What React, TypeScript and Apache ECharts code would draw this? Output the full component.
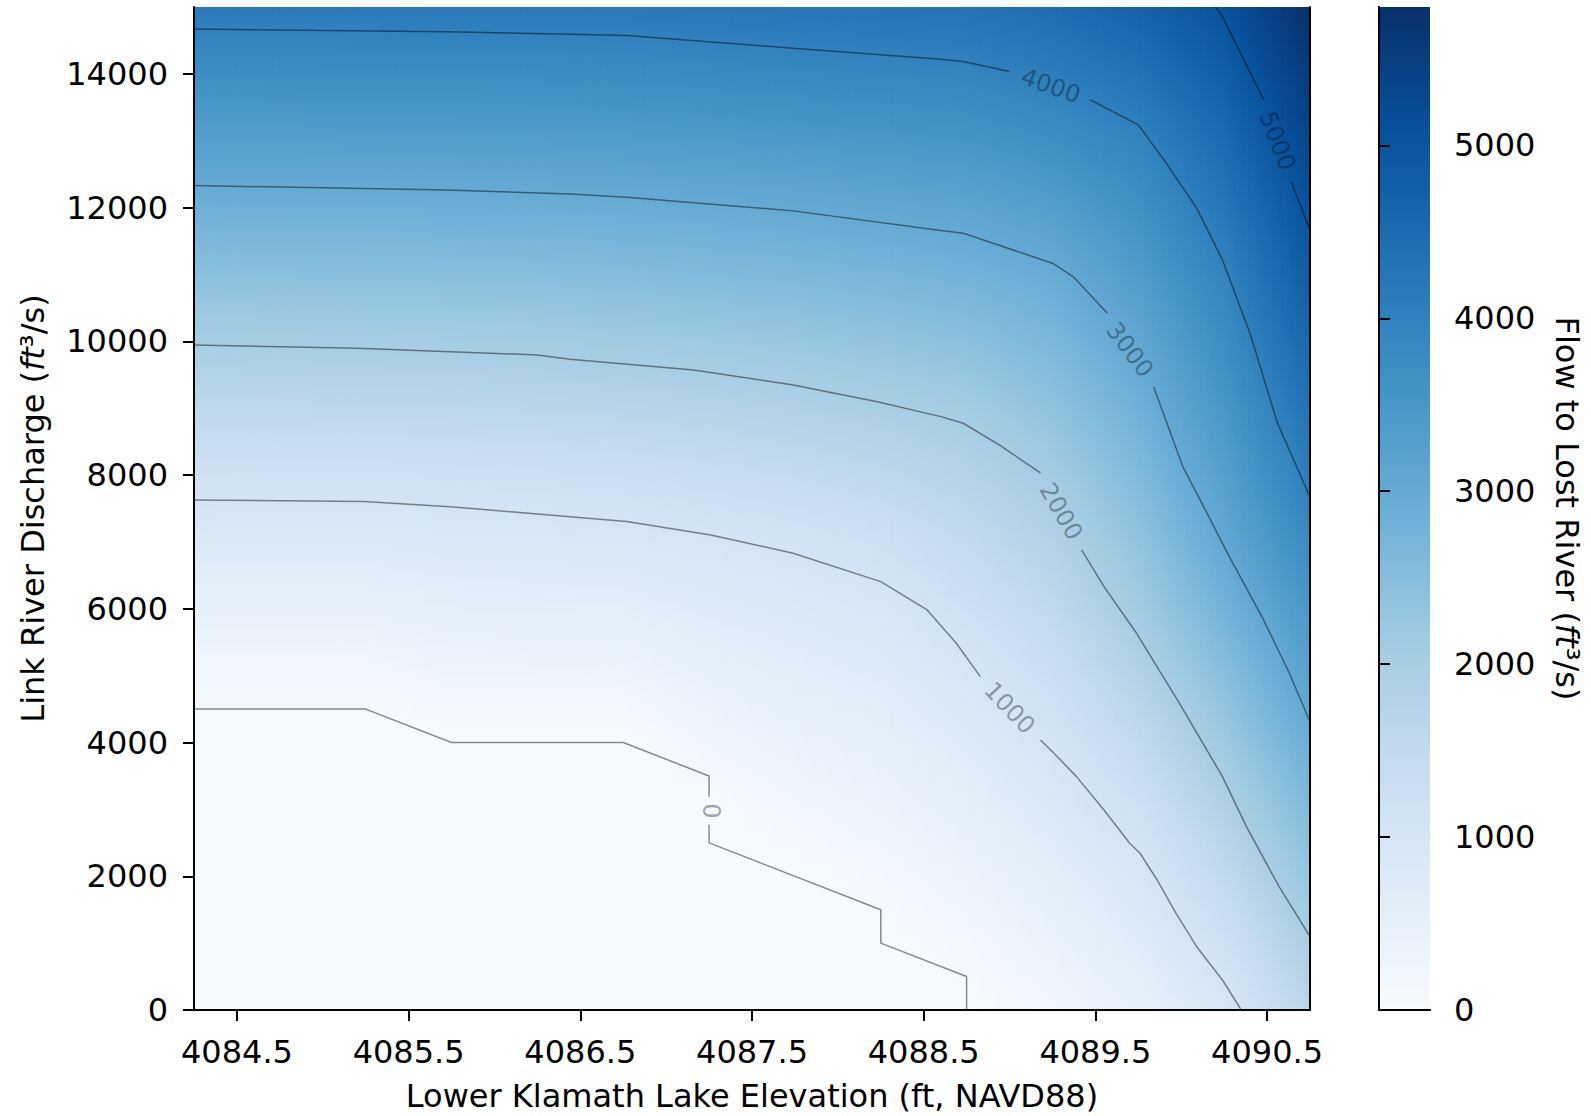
import React, { useEffect, useRef } from "react";
import * as echarts from "echarts";

// ---------------- DATA ----------------
// Grid of Lower Klamath Lake elevations (ft) and Link River discharges (ft3/s)
const elevations = [4084.25, 4084.75, 4085.25, 4085.75, 4086.25, 4086.75, 4087.25, 4087.75, 4088.25, 4088.75, 4089.25, 4089.75, 4090.25, 4090.75];
const discharges = [0, 1000, 2000, 3000, 4000, 5000, 6000, 7000, 8000, 9000, 10000, 11000, 12000, 13000, 14000, 15000];

// Flow to Lost River (ft3/s) for each elevation column, rows follow `discharges`
const flow4084_25 = [0, 0, 0, 0, 0, 160, 480, 800, 1160, 1590, 2020, 2440, 2860, 3290, 3710, 4140];
const flow4084_75 = [0, 0, 0, 0, 0, 160, 480, 805, 1165, 1600, 2035, 2450, 2870, 3295, 3720, 4150];
const flow4085_25 = [0, 0, 0, 0, 0, 160, 485, 805, 1175, 1610, 2045, 2460, 2880, 3305, 3730, 4160];
const flow4085_75 = [0, 0, 0, 0, 0, 285, 565, 850, 1205, 1635, 2060, 2475, 2890, 3315, 3740, 4165];
const flow4086_25 = [0, 0, 0, 0, 0, 290, 585, 875, 1240, 1665, 2085, 2495, 2905, 3325, 3745, 4170];
const flow4086_75 = [0, 0, 0, 0, 0, 300, 605, 905, 1290, 1715, 2135, 2535, 2935, 3350, 3760, 4175];
const flow4087_25 = [0, 0, 0, 0, 245, 485, 730, 975, 1370, 1780, 2185, 2580, 2975, 3390, 3800, 4215];
const flow4087_75 = [0, 0, 0, 205, 415, 620, 830, 1070, 1465, 1865, 2250, 2635, 3020, 3430, 3845, 4255];
const flow4088_25 = [0, 0, 145, 340, 535, 725, 920, 1220, 1595, 1965, 2335, 2705, 3080, 3480, 3885, 4285];
const flow4088_75 = [0, 150, 350, 550, 745, 945, 1210, 1495, 1785, 2085, 2435, 2785, 3150, 3540, 3930, 4320];
const flow4089_25 = [200, 405, 615, 820, 1035, 1295, 1555, 1820, 2085, 2375, 2665, 2950, 3315, 3695, 4075, 4450];
const flow4089_75 = [480, 700, 920, 1195, 1505, 1810, 2095, 2340, 2585, 2830, 3085, 3370, 3650, 3935, 4320, 4700];
const flow4090_25 = [880, 1190, 1520, 1845, 2165, 2470, 2775, 3060, 3285, 3510, 3735, 3955, 4225, 4500, 4780, 5055];
const flow4090_75 = [1660, 1970, 2280, 2590, 2905, 3205, 3500, 3800, 4080, 4330, 4585, 4835, 5080, 5320, 5560, 5800];

const flowGrid = [
  flow4084_25, flow4084_75, flow4085_25, flow4085_75, flow4086_25, flow4086_75, flow4087_25,
  flow4087_75, flow4088_25, flow4088_75, flow4089_25, flow4089_75, flow4090_25, flow4090_75,
];

// Contour lines [elevation, discharge] (split where the inline labels sit)
const contour0a = [[4084.25, 4500], [4085.25, 4500], [4085.75, 4000], [4086.75, 4000], [4087.25, 3500], [4087.25, 3190]];
const contour0b = [[4087.25, 2770], [4087.25, 2500], [4088.25, 1500], [4088.25, 1000], [4088.75, 500], [4088.75, 0]];
const contour1000a = [[4084.25, 7628], [4085.24, 7603], [4085.74, 7528], [4086.44, 7378], [4086.77, 7304], [4087.26, 7105], [4087.74, 6831], [4088.25, 6406], [4088.52, 5983], [4088.69, 5485], [4088.83, 4985]];
const contour1000b = [[4089.18, 4038], [4089.25, 3863], [4089.39, 3490], [4089.55, 2991], [4089.70, 2493], [4089.76, 2344], [4089.86, 1944], [4089.97, 1446], [4090.09, 947], [4090.24, 449], [4090.35, 0]];
const contour2000a = [[4084.25, 9946], [4085.20, 9897], [4086.25, 9797], [4086.44, 9733], [4087.16, 9572], [4087.74, 9348], [4088.23, 9098], [4088.60, 8874], [4088.73, 8775], [4088.94, 8451], [4089.18, 8032]];
const contour2000b = [[4089.42, 6880], [4089.55, 6331], [4089.74, 5634], [4089.99, 4587], [4090.24, 3490], [4090.38, 2742], [4090.57, 1844], [4090.75, 1096]];
const contour3000a = [[4084.25, 12329], [4085.72, 12265], [4086.44, 12205], [4086.77, 12156], [4087.74, 11951], [4088.60, 11656], [4088.73, 11617], [4089.25, 11168], [4089.37, 10968], [4089.57, 10421]];
const contour3000b = [[4089.84, 9318], [4090.01, 8122], [4090.11, 7628], [4090.28, 6780], [4090.48, 5833], [4090.63, 5036], [4090.75, 4312]];
const contour4000a = [[4084.25, 14670], [4085.72, 14630], [4086.44, 14594], [4086.77, 14573], [4087.74, 14384], [4088.60, 14220], [4088.73, 14184], [4089.00, 14034]];
const contour4000b = [[4089.47, 13611], [4089.75, 13237], [4089.90, 12713], [4090.09, 11991], [4090.24, 11218], [4090.40, 10126], [4090.56, 8780], [4090.75, 7673]];
const contour5000a = [[4090.20, 15000], [4090.24, 14857], [4090.48, 13611]];
const contour5000b = [[4090.64, 12389], [4090.75, 11666]];

// Inline contour labels: [elevation, discharge, level]
const contourLabels = [
  [4087.27, 2980, 0],
  [4089.0, 4517, 1000],
  [4089.30, 7456, 2000],
  [4089.70, 9872, 3000],
  [4089.24, 13820, 4000],
  [4090.56, 12998, 5000],
];
const contourLabelAngles = [90, -46.5, -60, -53, -19.5, -69];

// Tick values
const xTicks = [4084.5, 4085.5, 4086.5, 4087.5, 4088.5, 4089.5, 4090.5];
const yTicks = [0, 2000, 4000, 6000, 8000, 10000, 12000, 14000];
const cbTicks = [0, 1000, 2000, 3000, 4000, 5000];

// ---------------- COLOR MAP ----------------
const BLUES = ["#f7fbff", "#deebf7", "#c6dbef", "#9ecae1", "#6baed6", "#4292c6", "#2171b5", "#08519c", "#08306b"];
const VMAX = 5800;
const hexToRgb = (h: string) => [parseInt(h.slice(1, 3), 16), parseInt(h.slice(3, 5), 16), parseInt(h.slice(5, 7), 16)];
const BLUES_RGB = BLUES.map(hexToRgb);
function bluesColor(v: number) {
  const t = Math.min(1, Math.max(0, v / VMAX));
  const p = t * 8;
  const i = Math.min(7, Math.floor(p));
  const f = p - i;
  const a = BLUES_RGB[i];
  const b = BLUES_RGB[i + 1];
  return `rgb(${Math.round(a[0] + (b[0] - a[0]) * f)},${Math.round(a[1] + (b[1] - a[1]) * f)},${Math.round(a[2] + (b[2] - a[2]) * f)})`;
}

const FONT = "DejaVu Sans";
const LINE_COLOR = "rgba(0,0,0,0.45)";

function buildOption() {
  const heatData: number[][] = [];
  for (let j = 0; j < discharges.length; j++) {
    for (let i = 0; i < elevations.length; i++) {
      heatData.push([elevations[i], discharges[j], flowGrid[i][j], i, j]);
    }
  }

  const contourSegments = [
    contour0a, contour0b, contour1000a, contour1000b, contour2000a, contour2000b,
    contour3000a, contour3000b, contour4000a, contour4000b, contour5000a, contour5000b,
  ];

  const spine = { show: true, lineStyle: { color: "#000", width: 2 } };
  const tickStyle = { color: "#000", width: 2 };
  const labelStyle = { fontSize: 32, color: "#000", fontFamily: FONT };
  const nameStyle = {
    fontSize: 32,
    color: "#000",
    fontFamily: FONT,
    rich: { it: { fontStyle: "italic", fontSize: 32, color: "#000", fontFamily: FONT } },
  };
  const plain = (v: number) => String(v);

  return {
    animation: false,
    backgroundColor: "#ffffff",
    textStyle: { fontFamily: FONT },
    grid: [
      { left: 194, top: 7, width: 1116, height: 1003, containLabel: false, outerBoundsMode: "none" },
      { left: 1379, top: 7, width: 51, height: 1003, containLabel: false, outerBoundsMode: "none" },
    ],
    xAxis: [
      {
        type: "value", gridIndex: 0, position: "bottom", min: 4084.25, max: 4090.75, z: 10,
        axisLine: spine,
        axisTick: { show: true, customValues: xTicks, length: 11, lineStyle: tickStyle },
        axisLabel: { ...labelStyle, customValues: xTicks, margin: 26, formatter: (v: number) => v.toFixed(1) },
        splitLine: { show: false },
        name: "Lower Klamath Lake Elevation (ft, NAVD88)",
        nameLocation: "middle", nameGap: 70, nameTextStyle: nameStyle, nameMoveOverlap: false,
      },
      {
        type: "value", gridIndex: 0, position: "top", min: 4084.25, max: 4090.75, z: 10,
        axisLine: spine, axisTick: { show: false }, axisLabel: { show: false }, splitLine: { show: false },
      },
      {
        type: "value", gridIndex: 1, position: "bottom", min: 0, max: 1, z: 10,
        axisLine: spine, axisTick: { show: false }, axisLabel: { show: false }, splitLine: { show: false },
      },
      {
        type: "value", gridIndex: 1, position: "top", min: 0, max: 1, z: 10,
        axisLine: spine, axisTick: { show: false }, axisLabel: { show: false }, splitLine: { show: false },
      },
    ],
    yAxis: [
      {
        type: "value", gridIndex: 0, position: "left", min: 0, max: 15000, z: 10,
        axisLine: spine,
        axisTick: { show: true, customValues: yTicks, length: 11, lineStyle: tickStyle },
        axisLabel: { ...labelStyle, customValues: yTicks, margin: 26, formatter: plain },
        splitLine: { show: false },
        name: "Link River Discharge ({it|ft}³/s)",
        nameLocation: "middle", nameRotate: 90, nameGap: 145, nameTextStyle: nameStyle, nameMoveOverlap: false,
      },
      {
        type: "value", gridIndex: 0, position: "right", min: 0, max: 15000, z: 10,
        axisLine: spine, axisTick: { show: false }, axisLabel: { show: false }, splitLine: { show: false },
      },
      {
        type: "value", gridIndex: 1, position: "right", min: 0, max: VMAX, z: 10,
        axisLine: spine,
        axisTick: { show: true, customValues: cbTicks, length: 11, lineStyle: tickStyle },
        axisLabel: { ...labelStyle, customValues: cbTicks, margin: 24, formatter: plain },
        splitLine: { show: false },
        name: "Flow to Lost River ({it|ft}³/s)",
        nameLocation: "middle", nameRotate: -90, nameGap: 121, nameTextStyle: nameStyle, nameMoveOverlap: false,
      },
      {
        type: "value", gridIndex: 1, position: "left", min: 0, max: VMAX, z: 10,
        axisLine: spine, axisTick: { show: false }, axisLabel: { show: false }, splitLine: { show: false },
      },
    ],
    series: [
      {
        type: "custom",
        xAxisIndex: 0,
        yAxisIndex: 0,
        silent: true,
        clip: true,
        z: 1,
        data: heatData,
        renderItem: (params: any, api: any) => {
          const i = api.value(3);
          const j = api.value(4);
          if (i >= elevations.length - 1 || j >= discharges.length - 1) return null;
          const pBL = api.coord([elevations[i], discharges[j]]);
          const pTR = api.coord([elevations[i + 1], discharges[j + 1]]);
          const v00 = flowGrid[i][j];
          const v10 = flowGrid[i + 1][j];
          const v01 = flowGrid[i][j + 1];
          const v11 = flowGrid[i + 1][j + 1];
          const w = pTR[0] - pBL[0];
          const h = pBL[1] - pTR[1];
          const n = Math.max(1, Math.ceil(w / 5));
          const sw = w / n;
          const children: any[] = [];
          for (let k = 0; k < n; k++) {
            const t = (k + 0.5) / n;
            const vb = v00 + (v10 - v00) * t;
            const vt = v01 + (v11 - v01) * t;
            const stops = [];
            for (let s = 0; s <= 4; s++) {
              const u = s / 4;
              stops.push({ offset: u, color: bluesColor(vt + (vb - vt) * u) });
            }
            children.push({
              type: "rect",
              shape: { x: pBL[0] + k * sw, y: pTR[1], width: sw + 0.8, height: h + 0.8 },
              style: { fill: { type: "linear", x: 0, y: 0, x2: 0, y2: 1, colorStops: stops, global: false } },
            });
          }
          return { type: "group", children };
        },
      },
      {
        type: "custom",
        xAxisIndex: 2,
        yAxisIndex: 2,
        silent: true,
        z: 1,
        data: [[0, 0]],
        renderItem: (params: any, api: any) => {
          const p0 = api.coord([0, 0]);
          const p1 = api.coord([1, VMAX]);
          return {
            type: "rect",
            shape: { x: p0[0], y: p1[1], width: p1[0] - p0[0], height: p0[1] - p1[1] },
            style: {
              fill: {
                type: "linear", x: 0, y: 0, x2: 0, y2: 1, global: false,
                colorStops: BLUES.map((c, k) => ({ offset: k / 8, color: BLUES[8 - k] })),
              },
            },
          };
        },
      },
      ...contourSegments.map((seg) => ({
        type: "line",
        xAxisIndex: 0,
        yAxisIndex: 0,
        data: seg,
        symbol: "none",
        silent: true,
        clip: true,
        z: 3,
        lineStyle: { color: LINE_COLOR, width: 1.5 },
      })),
      {
        type: "scatter",
        xAxisIndex: 0,
        yAxisIndex: 0,
        silent: true,
        z: 4,
        symbolSize: 0.1,
        itemStyle: { color: "rgba(0,0,0,0)" },
        data: contourLabels.map(([x, y, lvl], k) => ({
          value: [x, y],
          label: { rotate: contourLabelAngles[k], formatter: String(lvl) },
        })),
        label: {
          show: true,
          position: "inside",
          fontSize: 24,
          color: LINE_COLOR,
          fontFamily: FONT,
        },
      },
    ],
  };
}

export default function App() {
  const ref = useRef<HTMLDivElement>(null);
  useEffect(() => {
    if (!ref.current) return;
    const chart = echarts.init(ref.current, null, { renderer: "svg" });
    chart.setOption(buildOption() as any);
    return () => chart.dispose();
  }, []);
  return (
    <div
      ref={ref}
      style={{ position: "fixed", left: 0, top: 0, width: 1591, height: 1116, background: "#ffffff" }}
    />
  );
}
